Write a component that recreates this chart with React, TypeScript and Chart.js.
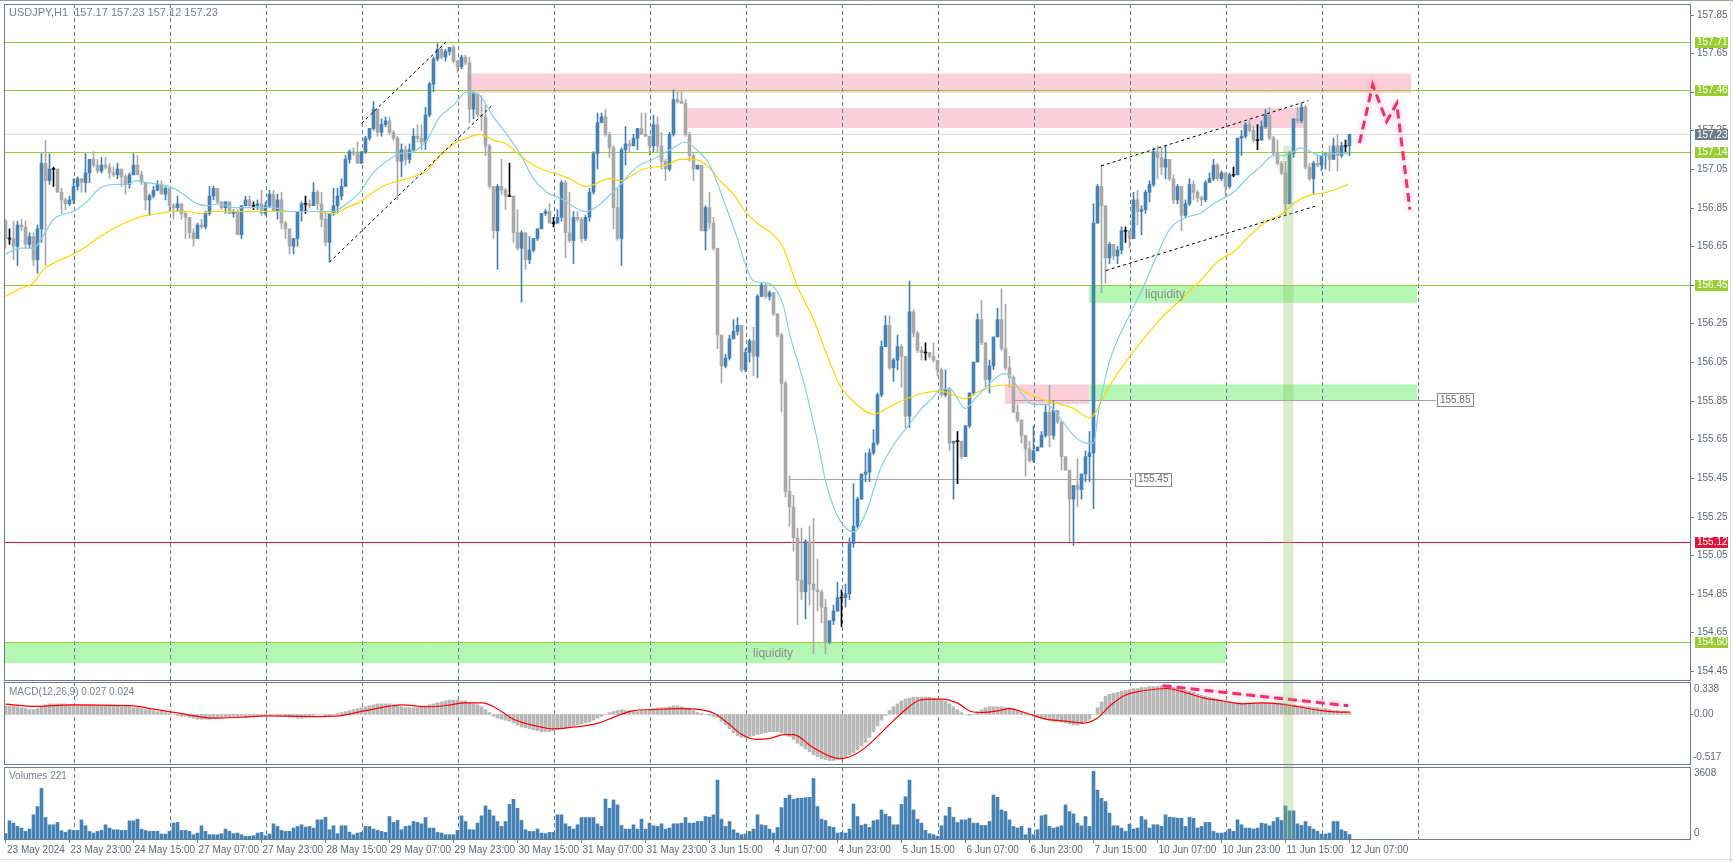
import React, { useEffect, useRef } from "react";
import { Chart, registerables } from "chart.js";

Chart.register(...registerables);

// ---------------- DATA ----------------
// bar index 0 = 23 May 23:00 (H1 bars), first visible bar is index -16
const FIRST_BAR = -16;
const firstOpen = 156.78;

const closes = [
  156.69,156.69,156.65,156.76,156.75,156.66,156.70,156.58,156.74,157.08,156.99,157.05,157.05,156.93,156.89,156.87,
  156.89,156.96,157.00,156.98,157.03,157.10,157.07,157.04,157.07,157.06,157.03,157.02,157.05,157.01,156.97,157.02,
  157.07,157.02,156.98,156.89,156.91,156.94,156.97,156.92,156.95,156.86,156.85,156.87,156.82,156.80,156.72,156.69,
  156.76,156.75,156.82,156.91,156.95,156.88,156.85,156.88,156.82,156.83,156.71,156.86,156.89,156.86,156.86,156.87,
  156.82,156.86,156.92,156.83,156.89,156.77,156.74,156.65,156.69,156.83,156.87,156.87,156.86,156.93,156.87,156.79,
  156.67,156.82,156.86,156.91,156.96,157.10,157.14,157.13,157.08,157.14,157.21,157.26,157.36,157.24,157.28,157.30,
  157.24,157.21,157.09,157.15,157.10,157.15,157.22,157.21,157.19,157.33,157.49,157.62,157.67,157.63,157.66,157.68,
  157.61,157.58,157.63,157.60,157.36,157.44,157.33,157.32,157.17,156.96,156.73,156.96,156.94,156.91,156.91,156.72,
  156.64,156.72,156.58,156.63,156.69,156.74,156.82,156.83,156.77,156.77,156.80,156.98,156.72,156.68,156.80,156.79,
  156.69,156.80,156.93,157.13,157.29,157.32,157.23,157.16,156.85,156.69,157.15,157.18,157.17,157.21,157.26,157.23,
  157.22,157.17,157.28,157.17,157.09,157.05,157.23,157.41,157.40,157.39,157.23,157.12,157.05,157.07,156.73,156.85,
  156.77,156.64,156.19,156.03,156.07,156.17,156.21,156.24,156.01,156.10,156.16,156.08,156.39,156.45,156.39,156.41,
  156.30,156.19,155.94,155.38,155.30,155.14,154.92,154.86,155.12,154.90,154.87,154.86,154.78,154.60,154.71,154.76,
  154.83,154.83,154.85,155.11,155.20,155.34,155.47,155.48,155.58,155.63,155.88,156.13,156.24,156.02,156.06,156.13,
  156.08,155.77,156.31,156.20,156.11,156.10,156.10,156.08,156.06,156.01,155.88,155.91,155.63,155.64,155.64,155.56,
  155.72,155.89,156.05,156.27,156.15,155.96,156.03,156.18,156.27,156.12,156.02,155.97,155.79,155.75,155.67,155.60,
  155.54,155.59,155.61,155.67,155.79,155.67,155.80,155.74,155.56,155.49,155.34,155.41,155.39,155.47,155.56,155.58,
  156.77,156.96,156.86,156.59,156.66,156.60,156.63,156.73,156.73,156.69,156.89,156.83,156.84,156.93,156.97,157.14,
  157.11,157.06,157.10,157.00,156.89,156.96,156.81,156.87,156.97,156.93,156.90,156.89,156.98,157.00,157.07,157.00,
  157.03,156.96,157.02,157.02,157.21,157.22,157.28,157.25,157.20,157.20,157.27,157.33,157.21,157.13,157.08,157.03,
  156.87,157.13,157.31,157.30,157.37,157.06,157.00,157.08,157.07,157.12,157.13,157.10,157.17,157.12,157.17,157.17,
  157.23
];

const highs = [
  156.79,156.74,156.78,156.78,156.79,156.78,156.72,156.72,156.76,157.13,157.20,157.13,157.06,157.05,156.95,156.90,
  156.91,157.00,157.01,157.00,157.13,157.10,157.14,157.10,157.11,157.11,157.08,157.06,157.08,157.04,157.02,157.03,
  157.13,157.12,157.04,156.98,156.92,156.96,156.99,156.99,156.96,156.95,156.87,156.91,156.85,156.83,156.79,156.74,
  156.77,156.79,156.83,156.96,156.96,156.95,156.88,156.88,156.87,156.84,156.84,156.86,156.91,156.91,156.88,156.89,
  156.94,156.88,156.94,156.94,156.92,156.93,156.78,156.74,156.69,156.83,156.88,156.91,156.89,156.98,156.94,156.93,
  156.83,156.82,156.95,156.95,157.00,157.12,157.15,157.16,157.19,157.14,157.22,157.26,157.40,157.36,157.31,157.32,
  157.32,157.25,157.22,157.18,157.17,157.18,157.26,157.28,157.28,157.37,157.50,157.63,157.70,157.69,157.67,157.68,
  157.69,157.60,157.64,157.64,157.63,157.45,157.44,157.43,157.38,157.18,156.96,156.97,157.10,156.95,157.08,156.91,
  156.84,156.73,156.70,156.70,156.69,156.74,156.82,156.84,156.87,156.80,156.84,156.99,156.99,156.93,156.83,156.83,
  156.80,156.81,156.95,157.14,157.34,157.34,157.36,157.24,157.17,156.95,157.16,157.27,157.20,157.23,157.26,157.34,
  157.34,157.18,157.33,157.32,157.24,157.10,157.24,157.46,157.45,157.45,157.41,157.24,157.13,157.07,157.07,156.86,
  156.93,156.80,156.62,156.19,156.09,156.19,156.27,156.28,156.24,156.12,156.17,156.23,156.40,156.46,156.46,156.42,
  156.41,156.30,156.20,155.95,155.46,155.36,155.19,155.19,155.13,155.20,155.24,155.03,154.87,154.82,154.71,154.79,
  154.91,154.87,154.90,155.14,155.42,155.35,155.47,155.58,155.60,155.70,155.89,156.16,156.29,156.29,156.07,156.19,
  156.14,156.08,156.47,156.32,156.21,156.13,156.15,156.10,156.15,156.04,156.02,156.01,155.92,155.64,155.69,155.64,
  155.72,155.89,156.05,156.30,156.37,156.15,156.06,156.18,156.33,156.43,156.35,156.08,155.98,155.83,155.75,155.66,
  155.64,155.72,155.61,155.69,155.83,155.93,155.85,155.80,155.74,155.56,155.49,155.41,155.55,155.47,155.59,155.69,
  156.87,156.97,157.07,156.86,156.67,156.66,156.65,156.75,156.75,156.71,156.93,156.94,156.86,156.94,156.99,157.16,
  157.17,157.16,157.17,157.10,157.02,156.97,156.96,156.89,157.00,156.99,156.94,156.91,156.99,157.03,157.10,157.08,
  157.04,157.03,157.03,157.06,157.21,157.25,157.29,157.30,157.27,157.28,157.30,157.36,157.37,157.22,157.20,157.09,
  157.09,157.14,157.31,157.37,157.39,157.38,157.08,157.09,157.12,157.12,157.13,157.17,157.21,157.23,157.19,157.20,
  157.23
];

const lows = [
  156.64,156.66,156.58,156.55,156.73,156.64,156.64,156.55,156.51,156.67,156.55,156.97,156.96,156.93,156.82,156.84,
  156.86,156.87,156.94,156.93,156.93,156.98,157.06,157.03,157.03,157.05,157.00,157.01,157.00,156.96,156.92,156.95,
  157.02,157.02,156.97,156.84,156.81,156.90,156.95,156.92,156.89,156.83,156.79,156.83,156.79,156.69,156.69,156.65,
  156.69,156.74,156.74,156.81,156.89,156.87,156.84,156.82,156.82,156.80,156.71,156.69,156.86,156.85,156.84,156.84,
  156.81,156.81,156.85,156.83,156.79,156.74,156.69,156.61,156.61,156.65,156.78,156.82,156.85,156.86,156.84,156.75,
  156.65,156.57,156.81,156.82,156.89,156.96,157.08,157.12,157.08,157.08,157.13,157.20,157.25,157.22,157.22,157.27,
  157.23,157.20,156.89,157.01,157.07,157.08,157.14,157.19,157.15,157.15,157.32,157.45,157.61,157.62,157.61,157.64,
  157.60,157.55,157.57,157.59,157.29,157.31,157.32,157.25,157.12,156.95,156.69,156.53,156.92,156.84,156.91,156.67,
  156.63,156.36,156.53,156.56,156.62,156.68,156.74,156.81,156.77,156.75,156.77,156.78,156.59,156.67,156.56,156.78,
  156.67,156.68,156.78,156.92,157.05,157.30,157.22,157.11,156.74,156.68,156.55,157.07,157.14,157.17,157.15,157.23,
  157.22,157.12,157.14,157.14,157.05,156.99,157.04,157.22,157.39,157.39,157.22,157.09,156.99,157.05,156.73,156.63,
  156.74,156.63,156.12,155.94,156.02,156.06,156.17,156.19,156.00,156.00,156.05,155.98,155.97,156.39,156.38,156.37,
  156.29,156.18,155.79,155.35,155.20,155.07,154.69,154.82,154.72,154.79,154.54,154.76,154.70,154.54,154.59,154.69,
  154.77,154.68,154.78,154.82,155.09,155.19,155.34,155.43,155.43,155.57,155.62,155.87,156.13,156.01,155.95,156.01,
  155.92,155.71,155.71,156.18,156.10,156.06,156.06,156.07,156.05,155.98,155.87,155.87,155.59,155.34,155.42,155.55,
  155.56,155.71,155.88,156.05,156.14,155.92,155.89,156.01,156.18,156.11,156.01,155.92,155.79,155.74,155.63,155.46,
  155.53,155.53,155.59,155.61,155.66,155.61,155.65,155.73,155.49,155.49,155.12,155.10,155.30,155.34,155.43,155.43,
  155.29,156.77,156.41,156.46,156.56,156.58,156.56,156.61,156.67,156.64,156.70,156.76,156.71,156.82,156.88,156.96,
  157.00,157.02,157.00,156.99,156.87,156.87,156.73,156.80,156.86,156.89,156.88,156.86,156.88,156.98,156.99,156.99,
  156.99,156.91,156.95,157.01,157.03,157.12,157.21,157.24,157.19,157.15,157.20,157.26,157.20,157.12,157.07,157.02,
  156.81,156.87,157.11,157.29,157.29,157.05,156.99,156.92,157.06,157.04,157.05,157.04,157.10,157.04,157.11,157.14,
  157.12
];

const volumes = [
  265,911,795,630,547,381,497,1210,1624,2535,1077,713,713,829,414,331,464,431,431,961,
  663,381,298,381,431,713,547,464,464,431,431,911,911,994,497,431,381,381,381,249,
  249,381,795,829,431,431,381,215,298,663,381,215,215,215,265,497,381,265,298,215,
  133,133,166,298,331,166,249,762,630,431,381,381,547,630,713,597,630,547,961,961,
  1094,464,663,265,663,663,348,215,298,331,630,630,497,431,381,331,1127,829,928,464,
  630,663,878,829,762,1077,547,547,331,298,215,215,215,431,1160,878,464,464,795,1160,
  1657,1458,1160,878,630,878,1740,1988,1541,928,464,381,381,497,298,265,331,331,1210,1210,
  762,630,497,713,1077,1077,1077,1077,762,630,2005,1541,1955,1707,679,497,497,713,497,994,
  497,795,663,630,762,497,547,762,762,795,1077,795,795,878,
  878,1127,1094,1210,2949,994,630,878,464,298,
  215,249,381,497,1210,713,679,497,298,580,
  1574,2038,2204,1988,2038,2038,2071,2088,3032,1624,
  994,928,630,580,298,331,298,497,1756,1127,
  679,746,580,911,961,1458,1243,1127,713,713,
  1740,2121,2949,1458,994,795,431,265,215,133,
  663,1160,1591,1094,829,961,961,1044,795,
  795,679,679,878,2204,2088,1458,1375,961,630,
  547,630,215,547,215,464,1160,1210,630,547,
  597,663,1707,1375,1259,795,663,1127,630,3397,
  2452,2038,1872,1292,663,663,547,381,746,497,
  547,1127,961,547,713,713,630,1210,1094,1077,
  1044,1044,630,1094,1044,547,630,829,829,381,
  298,298,331,497,381,961,713,547,547,497,
  547,795,762,663,878,1077,928,1657,1408,1408,
  762,679,878,630,497,381,249,249,298,878,
  878,464,381,221
];

const macdMain = [
  0.09,0.09,0.09,0.08, 0.07,0.06,0.05,0.05, 0.06,0.08, 0.10,0.11,0.11,0.11,0.11,
  0.11,0.10,0.10,0.10,0.10,0.10,0.10, 0.10,0.09,0.09,0.09,0.09,0.09,0.09,0.08,0.08,
  0.08,0.07,0.07,0.06,0.05, 0.05,0.04,0.03,0.03,0.02,0.01, 0.00,-0.01,-0.02,-0.02,
  -0.03,-0.04,-0.05,-0.05,-0.05,-0.05, -0.04,-0.04,-0.04,-0.03,-0.03,-0.02,
  -0.02,-0.01,-0.01,-0.01,-0.01,-0.01,-0.01,-0.01,0.00, 0.00,-0.01,-0.01,-0.02,-0.03,
  -0.03,-0.04,-0.04,-0.03,-0.02,-0.01, 0.00,0.00,-0.01,-0.01,0.00,0.01,
  0.02,0.03,0.04,0.05,0.06, 0.07,0.08,0.09, 0.10,0.11,0.11,0.11,0.11,0.10, 0.09,0.08,
  0.07,0.07,0.07,0.07,0.08,0.09,0.10, 0.11,0.12,0.13,0.14, 0.15,0.15,0.15,0.14,0.14,
  0.12,0.11,0.10,0.08, 0.05,0.02, -0.02,-0.04,-0.05,-0.06,-0.07,-0.09,
  -0.11,-0.13,-0.14,-0.15,-0.16,-0.17, -0.18,-0.18,-0.18, -0.17,-0.16,-0.15,-0.14,-0.13,-0.12,
  -0.11,-0.10,-0.09,-0.08,-0.06, -0.04,-0.02,0.00, 0.02,0.03,0.04,0.05,
  0.04,0.04,0.03,0.03,0.04,0.04, 0.05,0.06,0.07,0.07,0.07,0.08, 0.09,0.09,0.08,0.07,0.06,0.04,0.02,
  0.01,0.00,-0.01,-0.02,-0.03, -0.07,-0.11,-0.15,-0.19,-0.22,-0.24, -0.24,-0.23,-0.22,-0.21,-0.20,
  -0.19,-0.18,-0.18,-0.18,-0.19,-0.20, -0.23,-0.26, -0.30,-0.33,-0.36,-0.39,-0.42,
  -0.44,-0.46,-0.47,-0.48,-0.48,-0.47, -0.46,-0.44,-0.42,-0.40, -0.37,-0.33,-0.29,-0.24,
  -0.18,-0.12,-0.06, -0.01,0.04,0.08,0.11, 0.14,0.16,0.17,0.18,0.18,0.18, 0.18,0.18,0.17,0.16,0.15,0.14,
  0.11,0.08,0.05,0.02,0.00, -0.01,0.00, 0.03,0.05,0.07,0.08,0.08, 0.08,0.08,0.07,0.07,0.06,
  0.04,0.03,0.01,0.00,-0.02, -0.03,-0.04,-0.05,-0.06,-0.07,-0.07, -0.08,-0.09,-0.10,-0.11,-0.11,
  -0.10,-0.08,-0.05,0.00, 0.07,0.13,0.19, 0.21,0.22,0.23,0.24,0.25, 0.26,0.27,0.27,0.28,0.28,0.29,0.29,
  0.29,0.30,0.30,0.29,0.28, 0.27,0.26,0.25,0.24,0.23,0.21,0.20, 0.19,0.18,0.17,0.16,0.15,0.14,0.13,0.12,
  0.12,0.12,0.12,0.12,0.12,0.12,0.12,0.12, 0.12,0.12,0.11,0.11,0.11,0.10,0.10,0.09,
  0.09,0.08,0.08,0.07,0.07,0.06,0.06, 0.05,0.04,0.04,0.03,0.03,0.027
];

const signalBars = [-16,-8.4,0.5,16.1,19.5,27.3,36.2,42.9,49.6,60.7,67.4,73,79.7,83.1,89.8,95.4,98.7,103.2,106.5,111,116.6,121.1,126.6,132.2,136.6,141.1,145.6,152.3,157.6,161.1,164.6,168.1,171.6,175.1,178.6,181,185.7,190.3,192.7,196.2,199.7,204.4,209,212.6,216.1,218.4,221.9,225.4,227.8,232.5,234.8,239.5,244.1,248.8,253.5,256.9,260.4,263.9,267.4,270.9,274.4,277.9,283.7,288.4,293.2,297.9,302.5,307.2,313,318.9,320];
const signalValues = [0.107,0.083,0.10,0.09,0.066,0.013,-0.039,-0.029,-0.015,-0.022,-0.015,0.031,0.083,0.10,0.08,0.10,0.12,0.12,0.07,-0.05,-0.12,-0.15,-0.13,-0.09,-0.02,0.04,0.05,0.06,0.05,0.013,-0.09,-0.21,-0.26,-0.25,-0.21,-0.21,-0.34,-0.44,-0.46,-0.42,-0.32,-0.13,0.048,0.15,0.16,0.16,0.12,0.03,0.02,0.04,0.06,0.01,-0.05,-0.07,-0.09,-0.04,0.10,0.20,0.24,0.26,0.27,0.24,0.17,0.14,0.11,0.12,0.11,0.08,0.04,0.024,0.024];

const maFastBars = [-16,-12.4,-9,-7,-4,-0.7,1,4.3,7.6,11,14.3,16.8,19.3,22.6,26,28.5,31,34.3,37.6,41,44.3,47.6,51,55,59.5,63,66,69.3,72.6,75.9,79.3,82.6,86,89.3,92.6,96,99.3,102.6,106,109.3,112.6,116,119.3,122.6,125,128.9,136.8,141.8,146.8,151,153.9,156.8,160.1,163.5,166.8,168.9,171,174.3,176.8,178.5,180.1,183.5,186.8,189.3,192.6,196,199.3,202.6,206,209.3,212.6,216,217.6,220.1,223.9,226.8,230.1,233.5,235.1,237.6,241,244.3,247.6,251,254.3,256,257.3,260.1,264.7,268.5,271.8,275.1,279.3,282.6,286,291,294.3,297.6,301,303.5,306,307.6,309.3,312.6,316,319.7];
const maFastValues = [156.61,156.64,156.64,156.69,156.79,156.82,156.83,156.88,156.95,156.97,156.97,156.99,156.98,156.97,156.95,156.92,156.88,156.86,156.87,156.85,156.85,156.85,156.85,156.83,156.83,156.83,156.83,156.87,156.93,157.03,157.09,157.13,157.14,157.20,157.32,157.38,157.45,157.43,157.32,157.23,157.13,157.00,156.93,156.90,156.87,156.83,156.95,157.06,157.11,157.16,157.19,157.15,157.07,156.89,156.70,156.56,156.47,156.46,156.42,156.34,156.19,155.95,155.66,155.41,155.23,155.17,155.28,155.49,155.62,155.71,155.80,155.87,155.91,155.91,155.81,155.87,155.94,155.99,155.98,155.90,155.83,155.83,155.76,155.67,155.63,155.63,155.80,156.06,156.28,156.44,156.60,156.74,156.80,156.82,156.87,156.93,157.00,157.06,157.12,157.12,157.14,157.16,157.15,157.12,157.13,157.13];

const maSlowBars = [-16,-12.4,-9,-6.5,-3.2,1,4.3,7.6,11.8,16,19.3,22.6,26,29.3,32.6,36,41,46,51,56,61,66,69.3,72.6,75.9,79.3,82.6,86,89.3,92.6,96,99.3,102.6,106,109.3,112.6,116,119.3,122.6,125,129.3,135.1,137.6,143.5,149.3,152.6,156,159.3,162.6,166,169.3,172.6,176,178.5,181.8,186,189.3,192.6,196.8,201,205.1,209.3,213.5,217.6,221,223.9,227.6,232.6,236,239.3,244.3,251,255.1,256.8,260.1,272.6,277.6,282.6,287.6,291,294.3,299.3,302.6,306,309.3,314.3,319.7];
const maSlowValues = [156.39,156.43,156.46,156.53,156.57,156.61,156.65,156.70,156.75,156.79,156.81,156.82,156.83,156.83,156.82,156.83,156.83,156.83,156.83,156.83,156.83,156.82,156.85,156.88,156.93,156.97,156.99,157.01,157.04,157.12,157.18,157.21,157.23,157.20,157.18,157.12,157.07,157.04,157.02,157.00,156.96,157.00,156.99,157.05,157.07,157.10,157.10,157.07,156.99,156.92,156.82,156.76,156.71,156.64,156.45,156.27,156.09,155.93,155.83,155.78,155.82,155.86,155.89,155.90,155.88,155.86,155.90,155.93,155.93,155.89,155.85,155.81,155.76,155.80,155.93,156.27,156.37,156.47,156.58,156.62,156.69,156.78,156.81,156.87,156.91,156.93,156.97];

const timeLabels = ["23 May 2024","23 May 23:00","24 May 15:00","27 May 07:00","27 May 23:00","28 May 15:00","29 May 07:00","29 May 23:00","30 May 15:00","31 May 07:00","31 May 23:00","3 Jun 15:00","4 Jun 07:00","4 Jun 23:00","5 Jun 15:00","6 Jun 07:00","6 Jun 23:00","7 Jun 15:00","10 Jun 07:00","10 Jun 23:00","11 Jun 15:00","12 Jun 07:00"];
const dayStartBars = [1,25,49,73,97,121,145,169,193,217,241,265,289,313,337];
const priceTicks = [157.85,157.65,157.45,157.25,157.05,156.85,156.65,156.45,156.25,156.05,155.85,155.65,155.45,155.25,155.05,154.85,154.65,154.45];
const levelLines = [157.71,157.46,157.14,156.45,154.60];
const supportLine = 155.12;
const lastPrice = 157.23;
const headerText = "USDJPY,H1  157.17 157.23 157.12 157.23";
const macdText = "MACD(12,26,9) 0.027 0.024";
const volText = "Volumes 221";

const pinkZones = [
  { from: 99.4, to: 335.4, top: 157.545, bottom: 157.445 },
  { from: 154.5, to: 308.6, top: 157.366, bottom: 157.263 },
  { from: 233.9, to: 254.9, top: 155.934, bottom: 155.833 },
];
const greenZones = [
  { from: -16.4, to: 289.1, top: 154.60, bottom: 154.49, text: "liquidity", textAt: 175.9 },
  { from: 254.9, to: 336.9, top: 156.448, bottom: 156.357, text: "liquidity", textAt: 273.9 },
  { from: 255.0, to: 336.9, top: 155.934, bottom: 155.854, text: "", textAt: 0 },
];
const grayLines = [
  { from: 236.4, to: 341.6, price: 155.855, text: "155.85" },
  { from: 179.9, to: 266.1, price: 155.444, text: "155.45" },
];
const channelLines = [
  { k0: 73.05, p0: 157.287, k1: 94.7, p1: 157.719 },
  { k0: 64.95, p0: 156.567, k1: 105.75, p1: 157.382 },
  { k0: 257.9, p0: 157.066, k1: 309.7, p1: 157.404 },
  { k0: 259.1, p0: 156.524, k1: 311.8, p1: 156.86 },
];
const projectionBars = [322.5, 325.8, 329.3, 331.8, 335.1];
const projectionPrices = [157.184, 157.486, 157.296, 157.39, 156.84];
const macdDivBars = [273.3, 319.7];
const macdDivValues = [0.30, 0.09];
const highlightBand = { from: 303.4, to: 306.0, top: 157.17 };

// ---------------- LAYOUT ----------------
const W = 1733, H = 862;
const AREA = { left: 4, right: 1690, top: 4, bottom: 839 };
const MAIN = { top: 4, bottom: 680 };
const MACDP = { top: 682, bottom: 764 };
const VOLP = { top: 767, bottom: 839 };
const X_RANGE = { min: -16.375, max: 405.125 };

function panelRange(vTop: number, vBot: number, pTop: number, pBot: number) {
  const per = (vTop - vBot) / (pBot - pTop);
  return { max: vTop + (pTop - AREA.top) * per, min: vBot - (AREA.bottom - pBot) * per };
}
const priceR = panelRange(157.905, 154.403, MAIN.top, MAIN.bottom);
const macdR = panelRange(0.338, -0.517, MACDP.top, MACDP.bottom);
const volR = panelRange(3608, 0, VOLP.top, VOLP.bottom);

const FONT = '10px "Liberation Sans", Arial, sans-serif';
const HEADER_FONT = '11px "Liberation Sans", Arial, sans-serif';
const AXIS_COLOR = "#5d6878";
const BLUE = "#4682B4", GRAY = "#A9A9A9";

function buildDatasets() {
  const bodies: any[] = [], wicks: any[] = [], bodyCol: string[] = [];
  for (let i = 0; i < closes.length; i++) {
    const k = FIRST_BAR + i;
    const o = i === 0 ? firstOpen : closes[i - 1];
    const c = closes[i];
    const h = Math.max(highs[i], o, c), l = Math.min(lows[i], o, c);
    const doji = Math.abs(c - o) < 0.005;
    bodyCol.push(doji ? "#000000" : c > o ? BLUE : GRAY);
    bodies.push({ x: k, y: doji ? [o - 0.0022, o + 0.0022] : [o, c] });
    wicks.push({ x: k, y: [l, h] });
  }
  const vol = volumes.map((v, i) => ({ x: FIRST_BAR + i, y: v }));
  const macd = macdMain.map((v, i) => ({ x: FIRST_BAR + i, y: v }));
  const sig = signalBars.map((k, i) => ({ x: k, y: signalValues[i] }));
  const fast = maFastBars.map((k, i) => ({ x: k, y: maFastValues[i] }));
  const slow = maSlowBars.map((k, i) => ({ x: k, y: maSlowValues[i] }));
  const proj = projectionBars.map((k, i) => ({ x: k, y: projectionPrices[i] }));
  const div = macdDivBars.map((k, i) => ({ x: k, y: macdDivValues[i] }));
  const common = { grouped: false, borderWidth: 0, borderSkipped: false };
  const ds: any[] = [
    { type: "bar", label: "wick", data: wicks, yAxisID: "yP", backgroundColor: bodyCol, barThickness: 1, order: 9, ...common },
    { type: "bar", label: "body", data: bodies, yAxisID: "yP", backgroundColor: bodyCol, barThickness: 3, order: 8, ...common },
    { type: "bar", label: "volume", data: vol, yAxisID: "yV", backgroundColor: BLUE, barThickness: 3, order: 8, ...common },
    { type: "bar", label: "macd", data: macd, yAxisID: "yM", backgroundColor: "#B8B8B8", barThickness: 3, order: 8, ...common },
    { type: "line", label: "signal", data: sig, yAxisID: "yM", borderColor: "#FF0000", borderWidth: 1.2, pointRadius: 0, cubicInterpolationMode: "monotone", order: 3 },
    { type: "line", label: "maSlow", data: slow, yAxisID: "yP", borderColor: "#FFD700", borderWidth: 1.2, pointRadius: 0, cubicInterpolationMode: "monotone", order: 3 },
    { type: "line", label: "maFast", data: fast, yAxisID: "yP", borderColor: "#87CEEB", borderWidth: 1.2, pointRadius: 0, cubicInterpolationMode: "monotone", order: 2 },
  ];
  channelLines.forEach((c, i) => ds.push({ type: "line", label: "ch" + i, data: [{ x: c.k0, y: c.p0 }, { x: c.k1, y: c.p1 }], yAxisID: "yP", borderColor: "#000000", borderWidth: 1, borderDash: [3, 3], pointRadius: 0, order: 1 }));
  ds.push({ type: "line", label: "proj", data: proj, yAxisID: "yP", borderColor: "#F0306A", borderWidth: 3, borderDash: [9, 5], pointRadius: 0, order: 0 });
  ds.push({ type: "line", label: "div", data: div, yAxisID: "yM", borderColor: "#F0306A", borderWidth: 3, borderDash: [9, 5], pointRadius: 0, order: 0 });
  return ds;
}

const overlay = {
  id: "mtOverlay",
  beforeDatasetDraw(chart: any, args: any) {
    const lbl = chart.data.datasets[args.index].label;
    if (lbl === "proj" || lbl === "div") {
      chart.ctx.save();
      chart.ctx.shadowColor = "rgba(240,40,100,0.45)";
      chart.ctx.shadowBlur = 6;
    }
  },
  afterDatasetDraw(chart: any, args: any) {
    const lbl = chart.data.datasets[args.index].label;
    if (lbl === "proj" || lbl === "div") chart.ctx.restore();
  },
  beforeDatasetsDraw(chart: any) {
    const { ctx, scales } = chart;
    const px = (k: number) => scales.x.getPixelForValue(k);
    const py = (p: number) => scales.yP.getPixelForValue(p);
    ctx.save();
    for (const z of pinkZones) {
      ctx.fillStyle = "#FBCFD9";
      ctx.fillRect(px(z.from), py(z.top), px(z.to) - px(z.from), py(z.bottom) - py(z.top));
    }
    for (const z of greenZones) {
      ctx.fillStyle = "#B4F7B4";
      const x0 = Math.max(px(z.from), AREA.left);
      ctx.fillRect(x0, py(z.top), px(z.to) - x0, py(z.bottom) - py(z.top));
    }
    // day grid
    ctx.strokeStyle = "#6f7a88";
    ctx.lineWidth = 1;
    ctx.setLineDash([4, 3]);
    for (const k of dayStartBars) {
      const x = Math.round(px(k)) + 0.5;
      if (x > AREA.right) continue;
      for (const p of [MAIN, MACDP, VOLP]) {
        ctx.beginPath(); ctx.moveTo(x, p.top); ctx.lineTo(x, p.bottom); ctx.stroke();
      }
    }
    ctx.setLineDash([]);
    const hl = (p: number, col: string) => {
      const y = Math.round(py(p)) + 0.5;
      ctx.strokeStyle = col; ctx.beginPath(); ctx.moveTo(AREA.left, y); ctx.lineTo(AREA.right, y); ctx.stroke();
    };
    hl(lastPrice, "#DCDCE8");
    for (const l of levelLines) hl(l, "#9ACD32");
    hl(supportLine, "#DC143C");
    ctx.strokeStyle = "#A6A6A6";
    for (const g of grayLines) {
      const y = Math.round(py(g.price)) + 0.5;
      ctx.beginPath(); ctx.moveTo(px(g.from), y); ctx.lineTo(px(g.to), y); ctx.stroke();
    }
    ctx.restore();
  },
  afterDatasetsDraw(chart: any) {
    const { ctx, scales } = chart;
    const px = (k: number) => scales.x.getPixelForValue(k);
    const py = (p: number) => scales.yP.getPixelForValue(p);
    ctx.save();
    ctx.fillStyle = "rgba(140,190,100,0.30)";
    ctx.fillRect(px(highlightBand.from), py(highlightBand.top), px(highlightBand.to) - px(highlightBand.from), AREA.bottom - py(highlightBand.top));
    ctx.font = '12px "Liberation Sans", Arial, sans-serif';
    ctx.fillStyle = "#8c8c8c";
    ctx.textAlign = "center"; ctx.textBaseline = "middle";
    for (const z of greenZones) if (z.text) ctx.fillText(z.text, px(z.textAt), (py(z.top) + py(z.bottom)) / 2 + 1);
    ctx.font = FONT; ctx.textAlign = "left";
    for (const g of grayLines) {
      const y = py(g.price);
      const x0 = px(g.to) + 1;
      const w = ctx.measureText(g.text).width + 5;
      ctx.fillStyle = "#ffffff"; ctx.fillRect(x0, y - 6.5, w, 13);
      ctx.strokeStyle = "#8a8a8a"; ctx.strokeRect(Math.round(x0) + 0.5, Math.round(y - 6.5) + 0.5, Math.round(w), 13);
      ctx.fillStyle = "#6a6a6a"; ctx.fillText(g.text, x0 + 3, y + 0.5);
    }
    ctx.restore();
  },
  afterDraw(chart: any) {
    const { ctx, scales } = chart;
    const px = (k: number) => scales.x.getPixelForValue(k);
    const py = (p: number) => scales.yP.getPixelForValue(p);
    const pm = (v: number) => scales.yM.getPixelForValue(v);
    const pv = (v: number) => scales.yV.getPixelForValue(v);
    ctx.save();
    ctx.strokeStyle = "#6f7c8b"; ctx.lineWidth = 1;
    for (const p of [MAIN, MACDP, VOLP]) ctx.strokeRect(AREA.left + 0.5, p.top + 0.5, AREA.right - AREA.left, p.bottom - p.top);
    ctx.strokeStyle = "#9c9c9c"; ctx.beginPath(); ctx.moveTo(0, 0.5); ctx.lineTo(W, 0.5); ctx.stroke();
    ctx.strokeStyle = "#dedede"; ctx.beginPath(); ctx.moveTo(0, H - 2.5); ctx.lineTo(W, H - 2.5); ctx.moveTo(W - 2.5, 0); ctx.lineTo(W - 2.5, H); ctx.stroke();
    ctx.font = FONT; ctx.textBaseline = "middle"; ctx.textAlign = "left";
    ctx.fillStyle = AXIS_COLOR; ctx.strokeStyle = "#6f7c8b";
    for (const t of priceTicks) {
      const y = Math.round(py(t)) + 0.5;
      ctx.beginPath(); ctx.moveTo(AREA.right, y); ctx.lineTo(AREA.right + 4, y); ctx.stroke();
      ctx.fillText(t.toFixed(2), AREA.right + 7, y);
    }
    const box = (p: number, bg: string) => {
      const y = py(p);
      ctx.fillStyle = bg; ctx.fillRect(AREA.right + 5, Math.round(y) - 5, 33, 11);
      ctx.fillStyle = "#ffffff"; ctx.fillText(p.toFixed(2), AREA.right + 7, y + 0.5);
    };
    for (const l of levelLines) box(l, "#9ACD32");
    box(supportLine, "#DC143C");
    box(lastPrice, "#6e7b8b");
    ctx.fillStyle = AXIS_COLOR;
    ctx.fillText("0.338", AREA.right + 4, MACDP.top + 7);
    ctx.fillText("0.00", AREA.right + 4, pm(0));
    ctx.beginPath(); ctx.moveTo(AREA.right, Math.round(pm(0)) + 0.5); ctx.lineTo(AREA.right + 3, Math.round(pm(0)) + 0.5); ctx.stroke();
    ctx.fillText("-0.517", AREA.right + 3, MACDP.bottom - 7);
    ctx.fillText("3608", AREA.right + 4, VOLP.top + 6);
    ctx.fillText("0", AREA.right + 4, pv(0) - 6);
    ctx.fillStyle = AXIS_COLOR;
    timeLabels.forEach((t, i) => {
      const x = i === 0 ? AREA.left + 2 : px(16 * (i - 1));
      ctx.beginPath(); ctx.moveTo(Math.round(x) - 0.5, AREA.bottom); ctx.lineTo(Math.round(x) - 0.5, AREA.bottom + 4); ctx.stroke();
      ctx.fillText(t, x + 1, 850);
    });
    ctx.fillStyle = "#76818f";
    ctx.font = HEADER_FONT;
    ctx.fillText(headerText, 9, 13);
    ctx.font = FONT;
    ctx.fillText(macdText, 9, 692);
    ctx.fillText(volText, 9, 776);
    ctx.restore();
  },
};

export default function App() {
  const ref = useRef<HTMLCanvasElement>(null);
  useEffect(() => {
    const chart = new Chart(ref.current as HTMLCanvasElement, {
      type: "bar",
      data: { datasets: buildDatasets() as any },
      options: {
        animation: false,
        responsive: false,
        devicePixelRatio: 1,
        events: [],
        layout: { padding: { left: AREA.left, right: W - AREA.right, top: AREA.top, bottom: H - AREA.bottom } },
        plugins: { legend: { display: false }, tooltip: { enabled: false }, title: { display: false } },
        scales: {
          x: { type: "linear", min: X_RANGE.min, max: X_RANGE.max, offset: false, display: false, grid: { display: false } },
          yP: { type: "linear", min: priceR.min, max: priceR.max, display: false, grid: { display: false } },
          yM: { type: "linear", min: macdR.min, max: macdR.max, display: false, grid: { display: false } },
          yV: { type: "linear", min: volR.min, max: volR.max, display: false, grid: { display: false } },
        },
      } as any,
      plugins: [overlay as any],
    });
    return () => chart.destroy();
  }, []);
  return (
    <div style={{ position: "fixed", left: 0, top: 0, width: W, height: H, background: "#ffffff" }}>
      <canvas ref={ref} width={W} height={H} style={{ display: "block", width: W, height: H }} />
    </div>
  );
}
